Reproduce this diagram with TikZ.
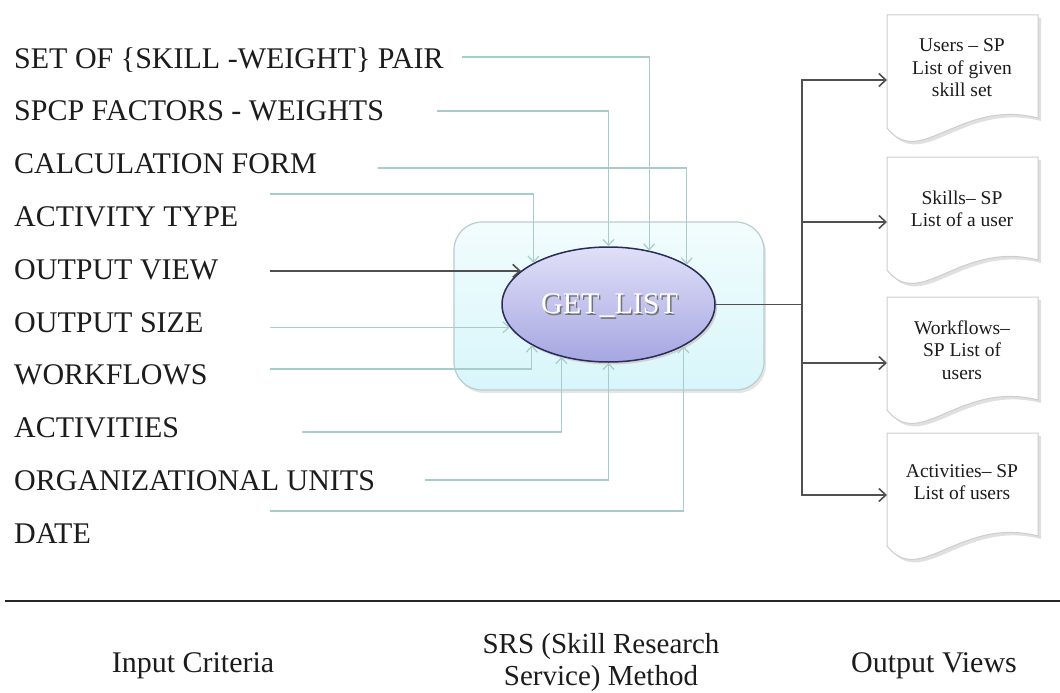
\documentclass[tikz,border=0pt]{standalone}
\usepackage{fontspec}
\setmainfont{Liberation Serif}
\usetikzlibrary{arrows.meta,shapes.geometric}
\definecolor{inl}{RGB}{168,204,204}
\definecolor{dk}{RGB}{80,80,80}
\definecolor{txt}{RGB}{28,28,28}
\definecolor{boxtop}{RGB}{242,252,253}
\definecolor{boxbot}{RGB}{216,246,250}
\definecolor{boxline}{RGB}{185,205,208}
\definecolor{elltop}{RGB}{224,224,248}
\definecolor{ellbot}{RGB}{166,166,226}
\definecolor{ellline}{RGB}{40,44,88}
\definecolor{docline}{RGB}{205,205,205}
\begin{document}
\begin{tikzpicture}[x=1pt,y=-1pt,
  lab/.style={anchor=base west, inner sep=0, text=txt, font=\fontsize{30}{36}\selectfont},
  inarrow/.style={draw=inl, line width=1.2pt, -{Straight Barb[length=6pt,width=11pt]}},
  darrow/.style={draw=dk, line width=1.6pt, -{Straight Barb[length=7pt,width=13pt]}},
  doctext/.style={align=center, text=txt, font=\fontsize{19.5}{22.5}\selectfont, inner sep=0},
  bottomlab/.style={align=center, text=txt, font=\fontsize{30}{36}\selectfont, inner sep=0},
  docshape/.style={draw=docline, fill=white, line width=1pt},
  docshadow/.style={fill=black!12, draw=none}]
\useasboundingbox (0,0) rectangle (1060,693);

% input labels
\node[lab] (i1) at (14,68) {SET OF \{SKILL -WEIGHT\} PAIR};
\node[lab] (i2) at (14,120.8) {SPCP FACTORS - WEIGHTS};
\node[lab] (i3) at (14,173.6) {CALCULATION FORM};
\node[lab] (i4) at (14,226.4) {ACTIVITY TYPE};
\node[lab] (i5) at (14,279.2) {OUTPUT VIEW};
\node[lab] (i6) at (14,332) {OUTPUT SIZE};
\node[lab] (i7) at (14,384.8) {WORKFLOWS};
\node[lab] (i8) at (14,437.6) {ACTIVITIES};
\node[lab] (i9) at (14,490.4) {ORGANIZATIONAL UNITS};
\node[lab] (i10) at (14,543.2) {DATE};

% method frame
\node[fill=black!10, rounded corners=28pt, minimum width=310pt, minimum height=168pt, inner sep=0] (boxsh) at (611,309) {};
\node[draw=boxline, line width=1.2pt, rounded corners=28pt, top color=boxtop, bottom color=boxbot, minimum width=310pt, minimum height=168pt, inner sep=0] (box) at (609,306) {};

% ellipse
\node[ellipse, fill=black!18, minimum width=213pt, minimum height=115pt, inner sep=0] (gsh) at (610.5,307) {};
\node[ellipse, draw=ellline, line width=1.5pt, top color=elltop, bottom color=ellbot, minimum width=213pt, minimum height=115pt, inner sep=0] (g) at (608.5,304.5) {};
\node[font=\fontsize{30}{36}\selectfont, text=black!55] (gs) at (611,307) {GET\_LIST};
\node[font=\fontsize{30}{36}\selectfont, text=white] (gl) at (609.5,305.5) {GET\_LIST};

% connector start points
\coordinate (s1) at (462,57);
\coordinate (s2) at (437,111);
\coordinate (s3) at (378,168);
\coordinate (s4) at (270,194);
\coordinate (s5) at (270,273);
\coordinate (s6) at (270,327);
\coordinate (s7) at (270,369);
\coordinate (s8) at (302,432);
\coordinate (s9) at (425,480);
\coordinate (s10) at (270,511);

\draw[inarrow] (s1) -| (g.53.5);
\draw[inarrow] (s2) -| (g.north);
\draw[inarrow] (s3) -| (g.27.5);
\draw[inarrow] (s4) -| (g.151.8);
\draw[darrow] (g.159.6 -| s5) -- (g.159.6);
\draw[inarrow] (g.193 -| s6) -- (g.193);
\draw[inarrow] (s7) -| (g.208.2);
\draw[inarrow] (s8) -| (g.228.8);
\draw[inarrow] (s9) -| (g.south);
\draw[inarrow] (s10) -| (g.331.8);

% output documents
\foreach \t in {15,157,297,433} {
  \fill[docshadow] (890,\t+3) -- (1041,\t+3) -- (1041,\t+106) .. controls (963,\t+86) and (923,\t+158) .. (890,\t+116) -- cycle;
  \draw[docshape] (887,\t) -- (1038,\t) -- (1038,\t+103) .. controls (960,\t+83) and (920,\t+155) .. (887,\t+113) -- cycle;
}
\node[doctext] (d1) at (962,68) {Users – SP\\List of given\\skill set};
\node[doctext] (d2) at (962,209) {Skills– SP\\List of a user};
\node[doctext] (d3) at (962,350) {Workflows–\\SP List of\\users};
\node[doctext] (d4) at (962,482) {Activities– SP\\List of users};

% output connectors
\coordinate (bus) at (802,304.5);
\coordinate (o1) at (887,80);
\coordinate (o2) at (887,222);
\coordinate (o3) at (887,363);
\coordinate (o4) at (887,495);
\draw[dk, line width=1.6pt] (g.east) -- (bus);
\draw[darrow] (bus) |- (o1);
\draw[darrow] (bus) |- (o2);
\draw[darrow] (bus) |- (o3);
\draw[darrow] (bus) |- (o4);

% bottom rule and captions
\coordinate (rl) at (5,601);
\coordinate (rr) at (1060,601);
\draw[black!85, line width=2.5pt] (rl) -- (rr);
\node[bottomlab] (b1) at (193,666) {Input Criteria};
\node[bottomlab, font=\fontsize{29}{32}\selectfont] (b2) at (601,663) {SRS (Skill Research\\Service) Method};
\node[bottomlab] (b3) at (934,666) {Output Views};
\end{tikzpicture}
\end{document}
